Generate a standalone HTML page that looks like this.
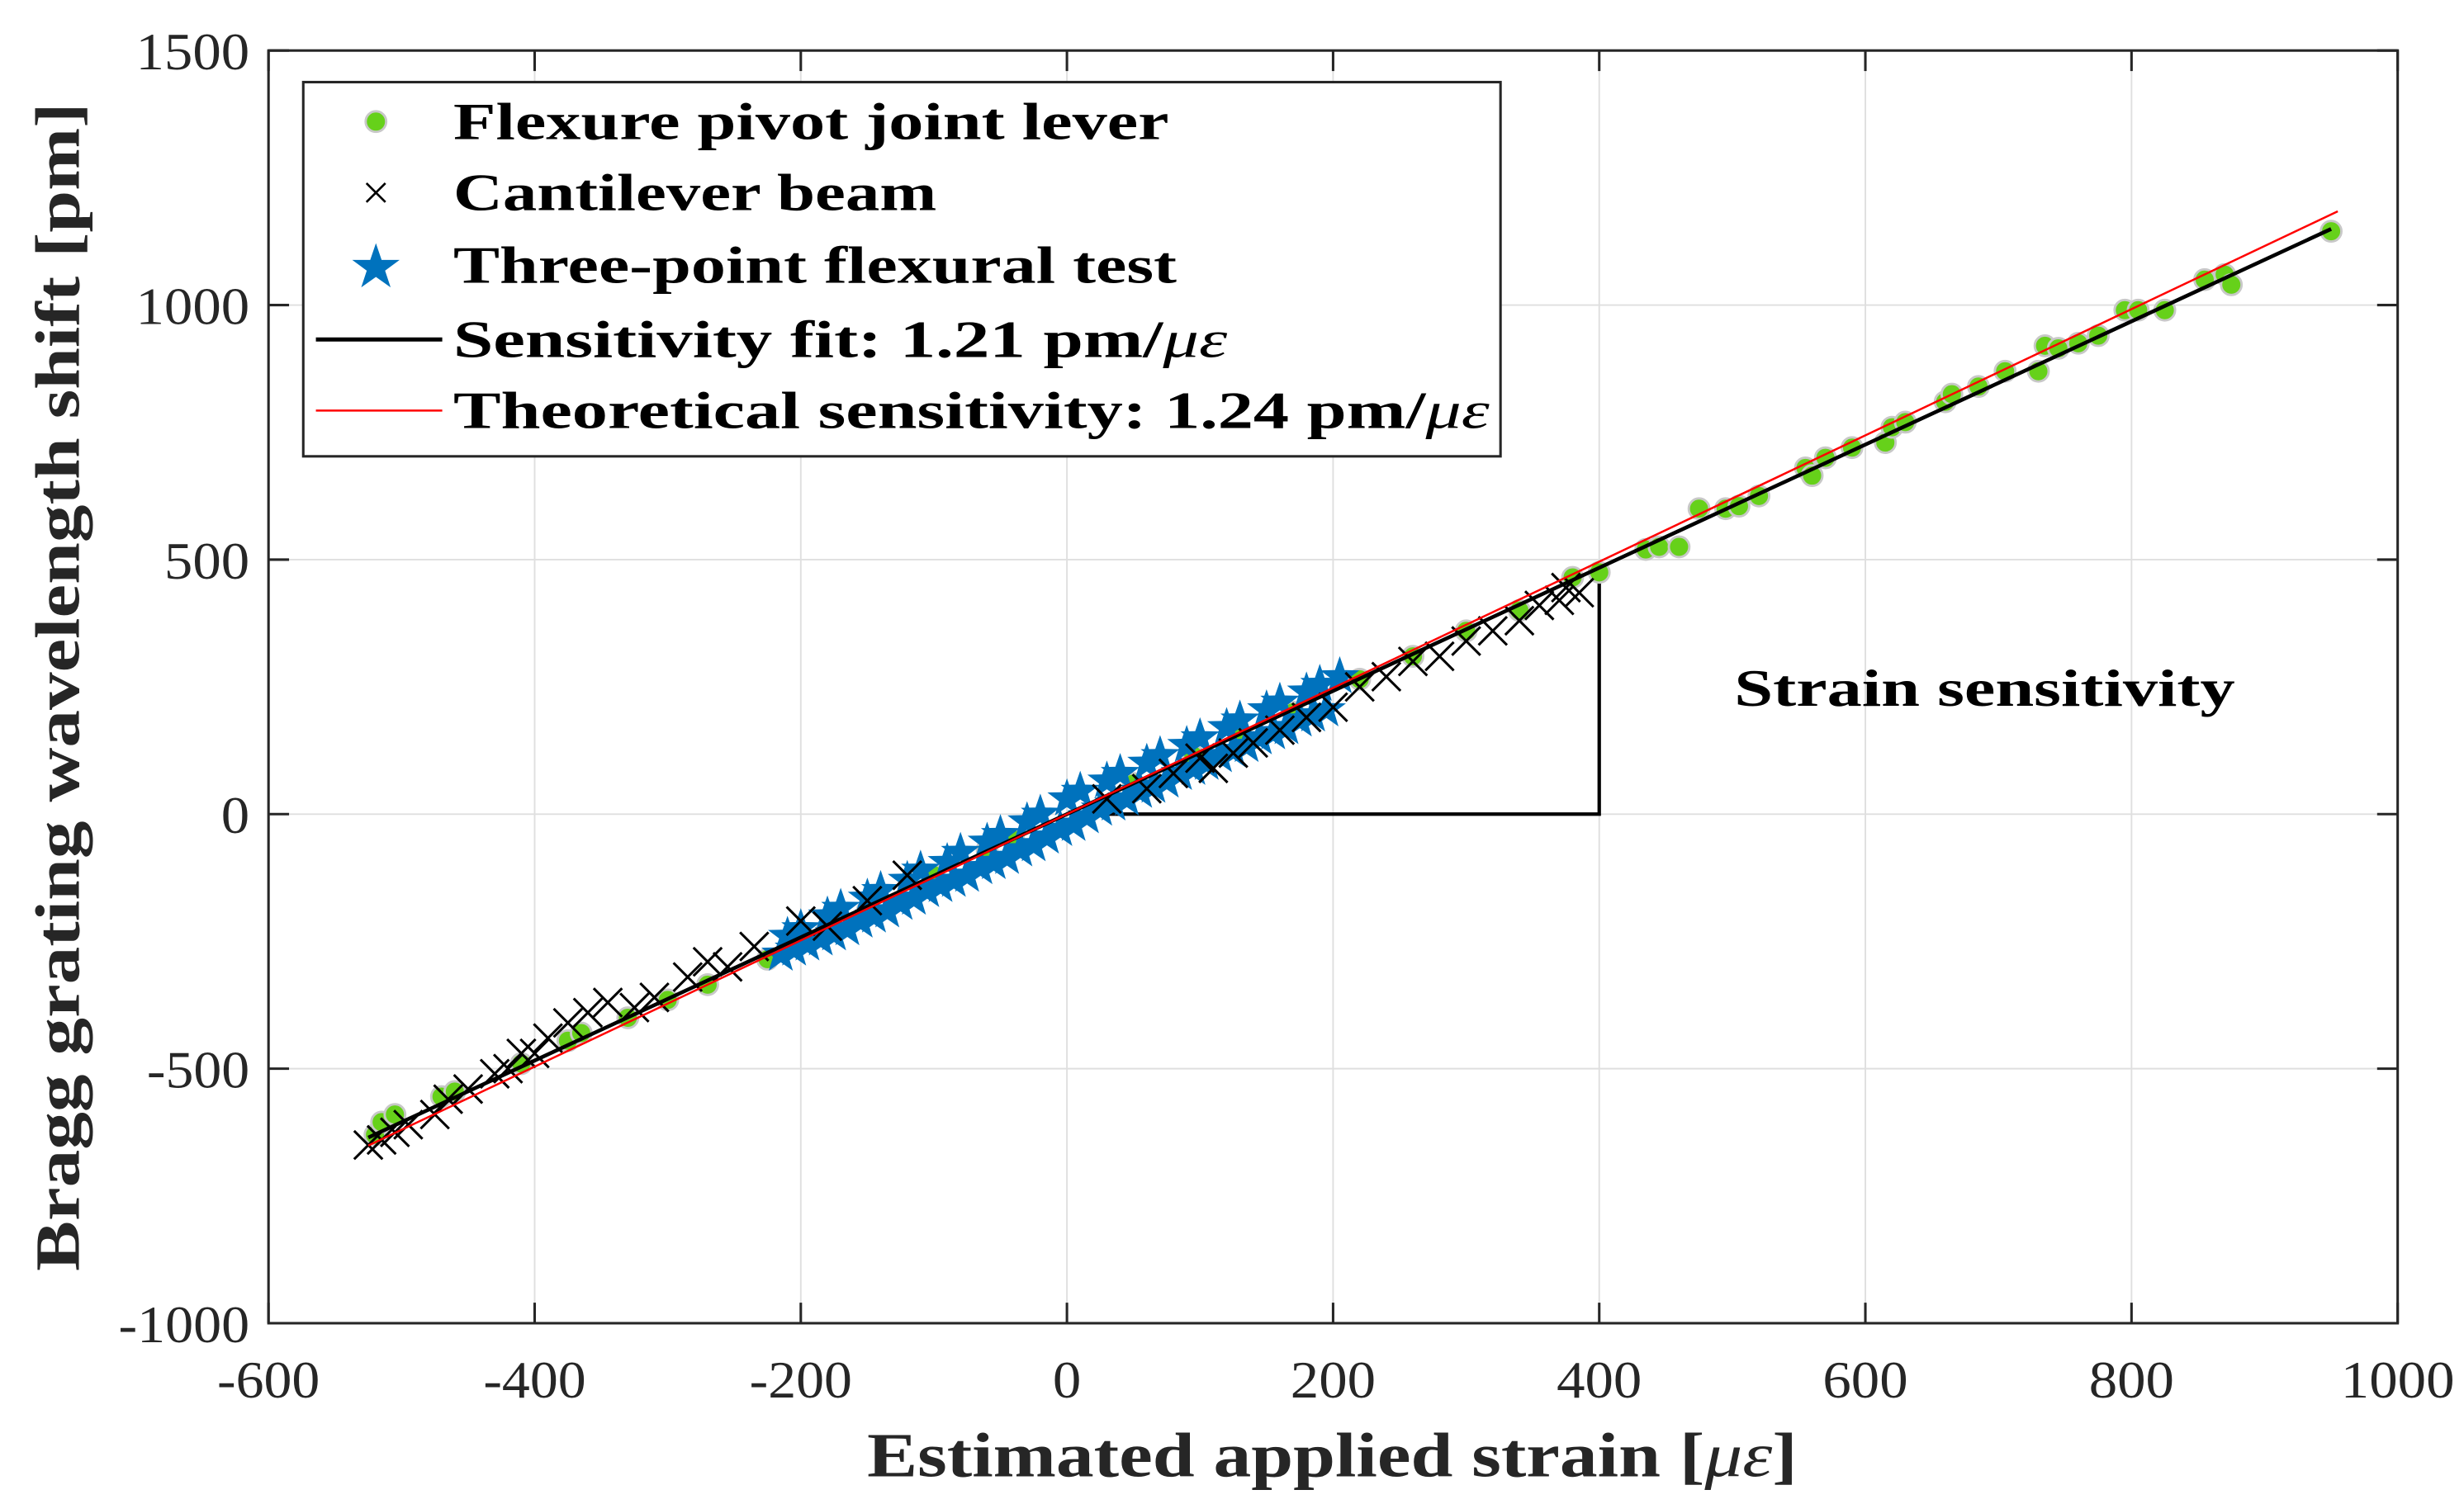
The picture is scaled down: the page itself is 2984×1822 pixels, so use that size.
<!DOCTYPE html>
<html><head><meta charset="utf-8">
<style>
html,body{margin:0;padding:0;background:#fff;}
svg{display:block;}
text{font-family:"Liberation Serif","DejaVu Serif",serif;}
</style></head>
<body>
<svg id="chart" width="2984" height="1822" viewBox="0 0 1560 952.5" preserveAspectRatio="none" xmlns="http://www.w3.org/2000/svg">
<rect x="0" y="0" width="1560" height="952.5" fill="#fff"/>
<g id="grid"></g>
<g id="lines"></g>
<g id="marks"></g>
<g id="axes"></g>
<text x="549" y="935" font-size="40" font-weight="bold" textLength="589" lengthAdjust="spacingAndGlyphs" fill="#262626">Estimated applied strain [<tspan font-style="italic" font-weight="normal">με</tspan>]</text>
<text transform="translate(50,805) rotate(-90)" font-size="40" font-weight="bold" textLength="740" lengthAdjust="spacingAndGlyphs" fill="#262626">Bragg grating wavelength shift [pm]</text>
<text x="1098" y="447" font-size="33" font-weight="bold" textLength="317" lengthAdjust="spacingAndGlyphs" fill="#000">Strain sensitivity</text>
<g>
<rect x="192" y="52" width="758" height="237" fill="#fff" stroke="#262626" stroke-width="1.6"/>
<circle cx="238" cy="77" r="6.5" fill="#66d11a" stroke="#c8c8c8" stroke-width="1.5"/>
<text x="287" y="88" font-size="33" font-weight="bold" textLength="453" lengthAdjust="spacingAndGlyphs">Flexure pivot joint lever</text>
<path d="M232,116 L244,128 M244,116 L232,128" stroke="#000" stroke-width="1.4"/>
<text x="287" y="133" font-size="33" font-weight="bold" textLength="306" lengthAdjust="spacingAndGlyphs">Cantilever beam</text>
<path d="M238,154 L241.6,164.6 L253,164.6 L243.8,171.4 L247.3,182 L238,175.4 L228.7,182 L232.2,171.4 L223,164.6 L234.4,164.6 Z" fill="#0072bd"/>
<text x="287" y="179" font-size="33" font-weight="bold" textLength="458" lengthAdjust="spacingAndGlyphs">Three-point flexural test</text>
<line x1="200" y1="215" x2="280" y2="215" stroke="#000" stroke-width="2.6"/>
<text x="287" y="226" font-size="33" font-weight="bold" textLength="490" lengthAdjust="spacingAndGlyphs">Sensitivity fit: 1.21 pm/<tspan font-style="italic" font-weight="normal">με</tspan></text>
<line x1="200" y1="260" x2="280" y2="260" stroke="#ff0000" stroke-width="1.3"/>
<text x="287" y="271" font-size="33" font-weight="bold" textLength="656" lengthAdjust="spacingAndGlyphs">Theoretical sensitivity: 1.24 pm/<tspan font-style="italic" font-weight="normal">με</tspan></text>
</g>
</svg>
<script>
const xTicks = [-600,-400,-200,0,200,400,600,800,1000];
const yTicks = [-1000,-500,0,500,1000,1500];
const fitSlope = [1.21];
const theorySlope = [1.24];
const fitRange = [-525, 950];
const theoryRange = [-525, 955];
const triangleX = [30, 400];
const flexX = [-520,-515,-505,-470,-460,-410,-375,-365,-330,-300,-270,-225,-180,-150,-100,-60,-40,50,95,130,170,220,260,300,340,380,400,435,445,460,475,495,505,520,555,560,570,590,615,620,630,660,665,685,705,730,735,745,760,775,795,805,825,855,870,875,950];
const flexY = [-630,-605,-590,-555,-545,-490,-445,-430,-400,-365,-335,-285,-225,-190,-120,-70,-50,60,115,160,200,265,310,360,400,465,475,520,525,525,600,600,605,625,680,665,700,720,730,760,770,810,825,840,870,870,920,915,925,940,990,990,990,1050,1060,1040,1145];
const cantX = [-525,-515,-505,-495,-475,-465,-450,-430,-420,-410,-400,-390,-375,-360,-345,-325,-310,-285,-270,-255,-235,-200,-180,-150,-120,30,60,80,100,110,125,140,160,180,200,220,240,260,280,300,320,340,355,370,385,375];
const cantY = [-650,-640,-625,-610,-590,-560,-540,-510,-500,-470,-470,-440,-410,-390,-370,-380,-360,-320,-290,-300,-260,-210,-220,-170,-120,30,50,80,110,90,120,140,165,190,210,250,270,300,310,340,360,380,410,420,435,445];
const starX = [-215,-210,-205,-200,-195,-185,-180,-175,-170,-165,-155,-150,-145,-140,-135,-125,-120,-115,-110,-105,-95,-90,-85,-80,-75,-65,-60,-55,-50,-45,-35,-30,-25,-20,-15,-5,0,5,10,15,25,30,35,40,45,55,60,65,70,75,85,90,95,100,105,115,120,125,130,135,145,150,155,160,165,175,180,185,190,195,205];
const starY = [-275,-240,-265,-225,-255,-245,-200,-235,-185,-225,-210,-165,-200,-150,-190,-175,-130,-165,-110,-150,-140,-95,-130,-75,-120,-105,-55,-95,-40,-85,-70,-15,-60,0,-45,-30,30,-20,45,-5,10,65,20,80,30,45,100,55,115,65,80,135,90,150,100,115,170,125,185,135,150,205,160,220,170,185,240,195,255,205,270];

const NS = 'http://www.w3.org/2000/svg';
const L=170, R=1518, T=32, B=838;
const xMin=-600, xMax=1000, yMin=-1000, yMax=1500;
function sx(v){return L+(v-xMin)/(xMax-xMin)*(R-L);}
function sy(v){return B-(v-yMin)/(yMax-yMin)*(B-T);}
function mk(tag, attrs, parent){const e=document.createElementNS(NS,tag);for(const k in attrs)e.setAttribute(k,attrs[k]);parent.appendChild(e);return e;}
function lblLen(v){const s=String(v);let w=0;for(const c of s)w+=(c==='-')?11:18;return w;}

const grid=document.getElementById('grid'), axes=document.getElementById('axes'), lines=document.getElementById('lines'), marks=document.getElementById('marks');
xTicks.forEach(v=>{
  const g=mk('line',{x1:sx(v),x2:sx(v),y1:T,y2:B,stroke:'#dfdfdf','stroke-width':1},grid);
  
  
  const t=mk('line',{x1:sx(v),x2:sx(v),y1:B,y2:B-13,stroke:'#262626','stroke-width':1.6},axes);
  
  
  const t2=mk('line',{x1:sx(v),x2:sx(v),y1:T,y2:T+13,stroke:'#262626','stroke-width':1.6},axes);
  
  
  const w=lblLen(v);
  const lb=mk('text',{x:sx(v)-w/2,y:B+47,'font-size':33,textLength:w,lengthAdjust:'spacingAndGlyphs',fill:'#262626'},axes);
  lb.textContent=v;
  
  
});
yTicks.forEach(v=>{
  const g=mk('line',{x1:L,x2:R,y1:sy(v),y2:sy(v),stroke:'#dfdfdf','stroke-width':1},grid);
  
  
  const t=mk('line',{x1:L,x2:L+13,y1:sy(v),y2:sy(v),stroke:'#262626','stroke-width':1.6},axes);
  
  
  const t2=mk('line',{x1:R,x2:R-13,y1:sy(v),y2:sy(v),stroke:'#262626','stroke-width':1.6},axes);
  
  
  const w=lblLen(v);
  const lb=mk('text',{x:L-12-w,y:sy(v)+12,'font-size':33,textLength:w,lengthAdjust:'spacingAndGlyphs',fill:'#262626'},axes);
  lb.textContent=v;
  
  
});
const box=mk('rect',{x:L,y:T,width:R-L,height:B-T,fill:'none',stroke:'#262626','stroke-width':1.6},axes);



const tri=mk('polyline',{points:`${sx(triangleX[0])},${sy(0)} ${sx(triangleX[1])},${sy(0)} ${sx(triangleX[1])},${sy(fitSlope[0]*triangleX[1])}`,fill:'none',stroke:'#000','stroke-width':2.2},lines);



flexX.forEach((x,i)=>{
  const c=mk('circle',{cx:sx(x),cy:sy(flexY[i]),r:6.5,fill:'#66d11a',stroke:'#c8c8c8','stroke-width':1.5},marks);
  
  
});
starX.forEach((x,i)=>{
  const cx=sx(x), cy=sy(starY[i]), r=13, ri=5.2;
  let p='';
  for(let k=0;k<10;k++){const a=-Math.PI/2+k*Math.PI/5;const rr=k%2?ri:r;p+=(k?'L':'M')+(cx+rr*Math.cos(a)).toFixed(2)+','+(cy+rr*Math.sin(a)).toFixed(2);}
  const s=mk('path',{d:p+'Z',fill:'#0072bd'},marks);
  
  
});
cantX.forEach((x,i)=>{
  const cx=sx(x), cy=sy(cantY[i]), h=9;
  const c=mk('path',{d:`M${cx-h},${cy-h}L${cx+h},${cy+h}M${cx+h},${cy-h}L${cx-h},${cy+h}`,stroke:'#000','stroke-width':1.6},marks);
  
  
});
const fit=mk('line',{x1:sx(fitRange[0]),y1:sy(fitSlope[0]*fitRange[0]),x2:sx(fitRange[1]),y2:sy(fitSlope[0]*fitRange[1]),stroke:'#000','stroke-width':2.4},marks);


const th=mk('line',{x1:sx(theoryRange[0]),y1:sy(theorySlope[0]*theoryRange[0]),x2:sx(theoryRange[1]),y2:sy(theorySlope[0]*theoryRange[1]),stroke:'#ff0000','stroke-width':1.3},marks);


</script>
</body></html>
